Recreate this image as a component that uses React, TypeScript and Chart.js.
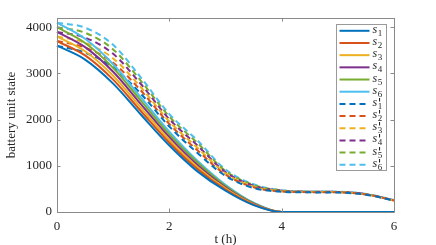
import React, { useEffect, useRef } from "react";
import { Chart, registerables } from "chart.js";

Chart.register(...registerables);

const T = [0, 0.5, 1, 1.5, 2, 2.5, 3, 3.5, 4, 4.5, 5, 5.5, 6];

const S1 = [3600, 3300, 2780, 2100, 1440, 880, 460, 150, 0, 0, 0, 0, 0];
const S2 = [3700, 3390, 2865, 2175, 1500, 930, 485, 160, 0, 0, 0, 0, 0];
const S3 = [3800, 3480, 2950, 2250, 1560, 975, 510, 170, 0, 0, 0, 0, 0];
const S4 = [3900, 3570, 3035, 2325, 1620, 1020, 535, 180, 0, 0, 0, 0, 0];
const S5 = [4000, 3660, 3120, 2400, 1680, 1070, 560, 190, 0, 0, 0, 0, 0];
const S6 = [4100, 3750, 3200, 2470, 1740, 1110, 590, 200, 0, 0, 0, 0, 0];

const P1 = [3600, 3450, 3130, 2550, 1850, 1280, 780, 520, 440, 425, 420, 375, 245];
const P2 = [3700, 3560, 3230, 2620, 1905, 1335, 810, 535, 445, 430, 425, 380, 250];
const P3 = [3800, 3665, 3325, 2690, 1960, 1390, 835, 550, 450, 435, 430, 380, 250];
const P4 = [3900, 3775, 3425, 2760, 2010, 1440, 865, 570, 460, 440, 435, 385, 255];
const P5 = [4000, 3880, 3520, 2830, 2065, 1495, 890, 585, 465, 440, 435, 385, 255];
const P6 = [4100, 3990, 3620, 2900, 2120, 1550, 920, 600, 470, 445, 440, 390, 260];

const SOLID = [S1, S2, S3, S4, S5, S6];
const PRIMED = [P1, P2, P3, P4, P5, P6];
const SOLID_LABELS = ["s\u2081", "s\u2082", "s\u2083", "s\u2084", "s\u2085", "s\u2086"];
const PRIMED_LABELS = ["s\u2032\u2081", "s\u2032\u2082", "s\u2032\u2083", "s\u2032\u2084", "s\u2032\u2085", "s\u2032\u2086"];
const SUB_DIGITS = ["1", "2", "3", "4", "5", "6"];
const COLORS = ["#0072BD", "#D95319", "#EDB120", "#7E2F8E", "#77AC30", "#4DBEEE"];

const X_TICKS = [0, 2, 4, 6];
const Y_TICKS = [0, 1000, 2000, 3000, 4000];
const Y_MAX = 4200;

const AXIS_COLOR = "#8a8a8a";
const TEXT_COLOR = "#262626";
const FONT = "'Liberation Serif', 'Times New Roman', serif";

const boxPlugin = {
  id: "boxAxes",
  afterDatasetsDraw(chart: any) {
    const { ctx, chartArea } = chart;
    const { left, right, top, bottom } = chartArea;
    const xs = chart.scales.x;
    const ys = chart.scales.y;
    ctx.save();
    ctx.strokeStyle = AXIS_COLOR;
    ctx.lineWidth = 1;
    ctx.setLineDash([]);
    ctx.beginPath();
    ctx.rect(Math.round(left) + 0.5, Math.round(top) + 0.5, Math.round(right - left), Math.round(bottom - top));
    ctx.stroke();
    const tl = 3.5;
    ctx.beginPath();
    X_TICKS.forEach((v) => {
      const px = Math.round(xs.getPixelForValue(v)) + 0.5;
      ctx.moveTo(px, bottom);
      ctx.lineTo(px, bottom - tl);
      ctx.moveTo(px, top);
      ctx.lineTo(px, top + tl);
    });
    Y_TICKS.forEach((v) => {
      const py = Math.round(ys.getPixelForValue(v)) + 0.5;
      ctx.moveTo(left, py);
      ctx.lineTo(left + tl, py);
      ctx.moveTo(right, py);
      ctx.lineTo(right - tl, py);
    });
    ctx.stroke();
    ctx.restore();
  },
  afterDraw(chart: any) {
    const { ctx, chartArea } = chart;
    const w = 50;
    const h = 146;
    const x0 = Math.round(chartArea.right - 8 - w) + 0.5;
    const y0 = Math.round(chartArea.top + 6) + 0.5;
    ctx.save();
    ctx.fillStyle = "#ffffff";
    ctx.fillRect(x0, y0, w, h);
    ctx.strokeStyle = "#9a9a9a";
    ctx.lineWidth = 1;
    ctx.setLineDash([]);
    ctx.strokeRect(x0, y0, w, h);
    const n = chart.data.datasets.length;
    const step = (h - 12) / (n - 1);
    chart.data.datasets.forEach((ds: any, i: number) => {
      const y = y0 + 6.3 + i * step;
      ctx.strokeStyle = ds.borderColor;
      ctx.lineWidth = 2;
      ctx.setLineDash(ds.borderDash || []);
      ctx.beginPath();
      ctx.moveTo(x0 + 3, y);
      ctx.lineTo(x0 + 33, y);
      ctx.stroke();
      ctx.setLineDash([]);
      const primed = !!ds.primed;
      const sub = ds.subDigit;
      ctx.fillStyle = TEXT_COLOR;
      ctx.textBaseline = "alphabetic";
      ctx.textAlign = "left";
      ctx.font = `italic 12px ${FONT}`;
      const tx = x0 + 36;
      ctx.fillText("s", tx, y + 2);
      const sw = ctx.measureText("s").width;
      ctx.font = `9px ${FONT}`;
      ctx.fillText(sub, tx + sw + 0.5, y + 5);
      if (primed) {
        ctx.font = `italic 13px 'DejaVu Sans', sans-serif`;
        ctx.fillText("'", tx + sw + 0.5, y + 3);
      }
    });
    ctx.restore();
  },
};

export default function App() {
  const ref = useRef<HTMLCanvasElement | null>(null);

  useEffect(() => {
    if (!ref.current) return;
    const datasets: any[] = [];
    SOLID.forEach((arr, i) => {
      datasets.push({
        label: SOLID_LABELS[i],
        subDigit: SUB_DIGITS[i],
        primed: false,
        data: T.map((t, j) => ({ x: t, y: arr[j] })),
        borderColor: COLORS[i],
        backgroundColor: COLORS[i],
        borderWidth: 2,
        pointRadius: 0,
        cubicInterpolationMode: "monotone",
        clip: 4,
        fill: false,
      });
    });
    PRIMED.forEach((arr, i) => {
      datasets.push({
        label: PRIMED_LABELS[i],
        subDigit: SUB_DIGITS[i],
        primed: true,
        data: T.map((t, j) => ({ x: t, y: arr[j] })),
        borderColor: COLORS[i],
        backgroundColor: COLORS[i],
        borderWidth: 2,
        borderDash: [6, 4],
        pointRadius: 0,
        cubicInterpolationMode: "monotone",
        clip: 4,
        fill: false,
      });
    });

    const chart = new Chart(ref.current, {
      type: "line",
      data: { datasets },
      plugins: [boxPlugin],
      options: {
        responsive: false,
        animation: false,
        events: [],
        layout: { padding: { left: 0, right: 42, top: 18, bottom: 0 } },
        plugins: {
          legend: { display: false },
          tooltip: { enabled: false },
        },
        scales: {
          x: {
            type: "linear",
            min: 0,
            max: 6,
            afterFit: (s: any) => {
              s.height = 33;
            },
            afterBuildTicks: (s: any) => {
              s.ticks = X_TICKS.map((v) => ({ value: v }));
            },
            grid: { display: false, drawTicks: false },
            border: { display: false },
            ticks: {
              padding: 7,
              color: TEXT_COLOR,
              font: { family: FONT, size: 13 },
              maxRotation: 0,
              callback: (v: any) => String(v),
            },
            title: {
              display: true,
              text: "t (h)",
              color: TEXT_COLOR,
              font: { family: FONT, size: 13 },
              padding: { top: 0, bottom: -2 },
            },
          },
          y: {
            type: "linear",
            min: 0,
            max: Y_MAX,
            afterFit: (s: any) => {
              s.width = 57;
            },
            afterBuildTicks: (s: any) => {
              s.ticks = Y_TICKS.map((v) => ({ value: v }));
            },
            grid: { display: false, drawTicks: false },
            border: { display: false },
            ticks: {
              padding: 5,
              color: TEXT_COLOR,
              font: { family: FONT, size: 13 },
              callback: (v: any) => String(v),
            },
            title: {
              display: true,
              text: "battery unit state",
              color: TEXT_COLOR,
              font: { family: FONT, size: 13 },
              padding: { top: 4, bottom: 0 },
            },
          },
        },
      },
    } as any);
    return () => chart.destroy();
  }, []);

  return (
    <div style={{ position: "fixed", left: 0, top: 0, width: 436, height: 245, background: "#fff" }}>
      <canvas ref={ref} width={436} height={245} style={{ display: "block", width: 436, height: 245 }} />
    </div>
  );
}
